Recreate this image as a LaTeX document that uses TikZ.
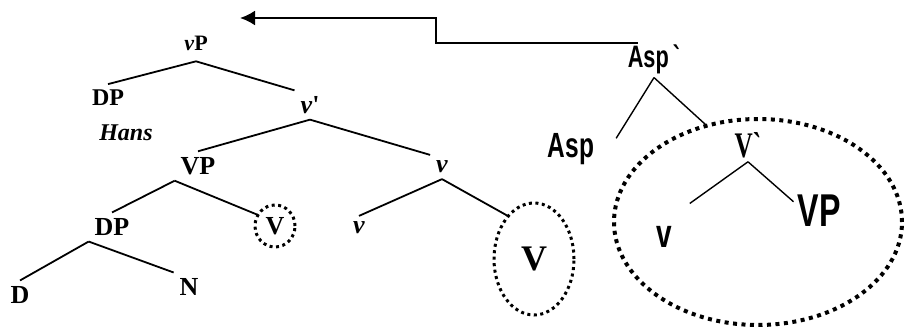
\documentclass[tikz,border=0pt]{standalone}
\usepackage{fontspec}
\usetikzlibrary{arrows.meta,shapes.geometric}
\newfontfamily\serifface{Liberation Serif}
\newfontfamily\sansface{Liberation Sans}
\newcommand\narrowtxt[1]{\scalebox{0.7}[1]{#1}}

\begin{document}
\begin{tikzpicture}[x=1pt, y=-1pt, line width=1.8pt,
  every node/.style={inner sep=0pt, outer sep=6pt},
  tree/.style={font=\serifface\bfseries\fontsize{#1}{#1}\selectfont},
  tree/.default=26,
  asp/.style={font=\sansface\bfseries\fontsize{#1}{#1}\selectfont, outer sep=4pt},
  ring/.style={ellipse, draw, outer sep=0pt, line width=3pt,
    dash pattern=on 3pt off 3.5pt},
  pointer/.style={line width=2.2pt, -{Latex[length=15pt,width=15pt]}}]
  \useasboundingbox (0,0) rectangle (904,329);
  % left tree
  \node[tree=22, outer sep=11pt] (vP) at (196,43) {\textit{v}P};
  \node[tree=24] (dpsubj) at (108,98) {DP};
  \node[tree=24] (hans) at (126,133) {\textit{Hans}};
  \node[tree] (vbar) at (310,105) {\textit{v}'};
  \node[tree] (vp) at (198,166) {VP};
  \node[tree] (vhead) at (442,167) {\textit{v}};
  \node[tree] (dpobj) at (112,227) {DP};
  \node[tree, ring, minimum width=40pt, minimum height=42pt] (vtrace) at (275,226) {V};
  \node[tree] (vlow) at (359,228) {\textit{v}};
  \node[ring, minimum width=80pt, minimum height=112pt,
    font=\serifface\bfseries\fontsize{36}{36}\selectfont] (vcopy) at (534,259) {V};
  \node[tree] (det) at (20,295) {D};
  \node[tree] (noun) at (189,287) {N};
  \draw (vP.south) -- (dpsubj.north);
  \draw (vP.south) -- (vbar.north west);
  \draw (vbar.south) -- (vp.north);
  \draw (vbar.south) -- (vhead.north west);
  \draw (vp.south west) -- (dpobj.north);
  \draw (vp.south west) -- (vtrace.147);
  \draw (dpobj.south west) -- (det.north);
  \draw (dpobj.south west) -- (noun.north west);
  \draw (vhead.south) -- (vlow.north);
  \draw (vhead.south) -- (vcopy.121);
  % right tree
  \node[asp=31] (aspbar) at (654,59) {\narrowtxt{Asp\hspace{6pt}`}};
  \node[asp=35] (asp) at (571,149) {\narrowtxt{Asp}};
  \node[ring, line width=4pt, dash pattern=on 4pt off 4.5pt,
    minimum width=288pt, minimum height=206pt] (bigring) at (758,222) {};
  \node[asp=36, font=\serifface\bfseries\fontsize{36}{36}\selectfont] (vbarr) at (748,145) {\narrowtxt{V`}};
  \node[asp=40] (vr) at (664,237) {\narrowtxt{v}};
  \node[asp=46] (vpr) at (819,211) {\narrowtxt{VP}};
  \draw[line width=1.4pt] (aspbar.south) -- ([shift={(18,9)}]asp.north east);
  \draw[line width=1.4pt] (aspbar.south) -- (bigring.118);
  \draw[line width=1.4pt] (vbarr.south) -- ([shift={(14,-19)}]vr.north east);
  \draw[line width=1.4pt] (vbarr.south) -- (vpr.160);
  % movement arrow
  \coordinate (bend) at (436,43);
  \coordinate (tip) at (240,18);
  \coordinate (aspmark) at ([xshift=14pt]aspbar.north west);
  \draw[pointer] (aspmark |- bend) -- (bend) |- (tip);
\end{tikzpicture}
\end{document}
